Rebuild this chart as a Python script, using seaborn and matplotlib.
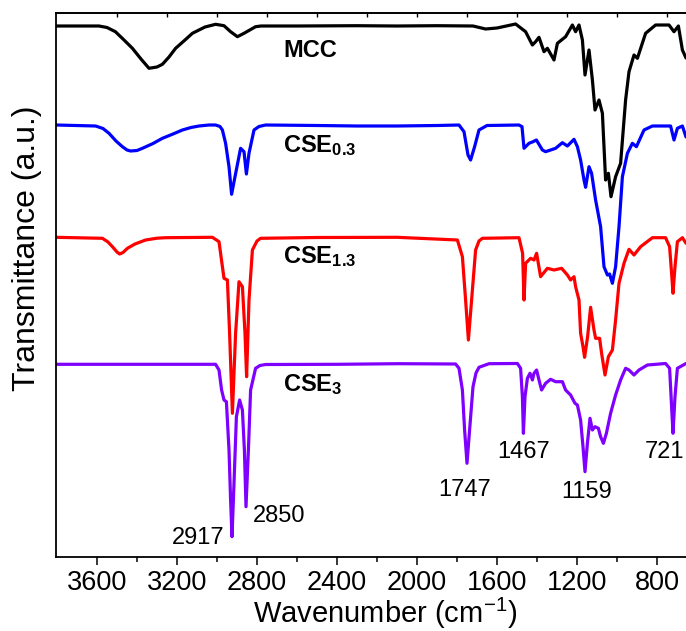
import numpy as np
import pandas as pd
import matplotlib
matplotlib.use("Agg")
import matplotlib.pyplot as plt
import seaborn as sns

# ---------------- data ----------------
mcc_wn = [3805, 3590, 3550, 3508, 3470, 3423, 3380, 3340, 3300, 3273, 3240, 3207, 3160, 3123, 3060,
          3007, 2965, 2932, 2898, 2865, 2807, 2780,
          2600, 2300, 2100, 1900, 1720, 1657, 1600, 1507, 1457, 1423, 1407, 1390, 1365, 1348,
          1315, 1298, 1257, 1223, 1207, 1190, 1173, 1160, 1140, 1123, 1110, 1090, 1073, 1057,
          1043, 1030, 1007, 982, 957, 940, 915, 898, 857, 807, 740, 715, 693, 673, 655]
mcc_t = [531, 531, 529.5, 525.3, 518, 508.7, 498, 488.7, 490, 492.7, 500, 508.7, 517, 523.7, 530,
         532.7, 531.3, 525.3, 520.3, 523.7, 530.3, 531,
         531, 531.3, 531, 531.3, 531, 528, 529, 533, 525.3, 512, 515.3, 519.7, 505.3, 508.7,
         497, 513.7, 520.3, 532, 525.3, 532, 517, 482, 507, 477, 447, 457, 443.7, 377,
         383.7, 360.3, 380.3, 393.7, 457, 485.3, 502, 498.7, 523.7, 532, 532, 525.3, 531, 507, 499]

cse03_wn = [3805, 3607, 3570, 3540, 3505, 3473, 3450, 3432, 3400, 3373, 3320, 3273, 3220, 3173, 3130,
            3090, 3040, 3007, 2985, 2973, 2957, 2940, 2927,
            2910, 2882, 2865, 2853, 2840, 2815, 2790, 2757, 2500, 2300, 2100, 1900, 1790, 1765, 1745,
            1732, 1712, 1690, 1650, 1490, 1475, 1465, 1440, 1420, 1403, 1373, 1357, 1307, 1273,
            1248, 1215, 1198, 1182, 1165, 1157, 1140, 1127, 1107, 1082, 1065, 1048, 1037, 1023,
            1007, 990, 973, 948, 923, 903, 865, 823, 732, 715, 698, 673, 655]
cse03_t = [432, 431, 428.5, 423.7, 416, 410.3, 407, 406, 406.5, 408.7, 413.5, 418.7, 423, 427, 429.5,
           431, 432, 432, 430.5, 427, 413.7, 390.3, 362.7,
           380.3, 408.7, 405.3, 383, 403.7, 427, 430.5, 432, 431.5, 431, 431, 431.5, 432, 425.3, 402,
           397, 410.3, 427, 431.5, 432, 430.3, 408.7, 413.7, 415.3, 417, 407, 405.3, 408.7, 414.3,
           411, 417.7, 410.3, 397, 377, 369.7, 390.3, 383.7, 357, 330.3, 290.3, 282, 283, 273.7,
           290.3, 330.3, 380.3, 403.7, 413.7, 410.3, 427, 431, 431, 417, 428.7, 431, 420]

cse13_wn = [3805, 3573, 3545, 3523, 3500, 3487, 3470, 3448, 3410, 3357, 3300, 3257, 3023, 2990, 2973,
            2965, 2948, 2937, 2923,
            2907, 2890, 2873, 2860, 2852, 2840, 2823, 2800, 2782, 2500, 2100, 1798, 1773, 1757, 1743,
            1727, 1707, 1690, 1673, 1490, 1472, 1465, 1457, 1432, 1415, 1402, 1382, 1348, 1315, 1277,
            1248, 1232, 1215, 1207, 1190, 1182, 1170, 1162, 1147, 1132, 1115, 1107, 1087, 1077,
            1060, 1043, 1023, 1007, 990, 965, 940, 915, 882, 823, 757, 737, 727, 720, 710, 698,
            673, 655]
cse13_t = [319.7, 318.7, 315, 310.3, 305, 303, 304.5, 308.7, 313, 317, 318.8, 319.3, 319.7, 315.3, 290.3,
           278.7, 277, 223.7, 143.7,
           223.7, 275.3, 270.3, 223.7, 180.3, 257, 307, 316, 318.7, 319.5, 319.7, 317, 300.3, 257, 217,
           257, 307, 316, 318.7, 319.3, 303.7, 257, 293.7, 298.7, 297, 303.7, 280.3, 288.7, 287, 288.7,
           282, 277, 280.3, 270.3, 257, 223.7, 210.3, 199.7, 220.3, 249.7, 227, 218.7, 218.7, 203.7,
           182, 200.3, 207, 237, 273.7, 293.7, 307.7, 302, 310.3, 319.3, 319.3, 310.3, 283.7, 263.7,
           290.3, 315.3, 319.3, 313.7]

cse3_wn = [3805, 3007, 2990, 2977, 2965, 2953, 2940, 2932, 2925, 2915, 2903, 2887, 2873, 2863,
           2855, 2843, 2832, 2807, 2785, 2757, 2400, 2090, 1807, 1790, 1773, 1762, 1750, 1737, 1720,
           1705, 1690, 1640, 1498, 1482, 1473, 1468, 1460, 1448, 1435, 1423, 1415, 1402, 1390, 1377,
           1357, 1332, 1307, 1273, 1257, 1232, 1210, 1198, 1182, 1170, 1160, 1148, 1135, 1123,
           1110, 1093, 1082, 1068, 1053, 1032, 1007, 982, 957, 940, 915, 890, 848, 757, 737,
           727, 720, 710, 698, 655]
cse3_t = [192.7, 192.7, 187, 167, 157, 155.3, 107, 57, 20.3, 73.7, 140.3, 157, 147, 107,
          50.3, 107, 167, 188.7, 191.5, 192.5, 192.7, 193.3, 193, 188.7, 167, 127, 93.7, 127, 170.3,
          184, 189.7, 193.3, 193.5, 188.7, 160.3, 123.7, 160.3, 178.7, 183.7, 177, 183.7, 187, 177, 167,
          173.7, 177.7, 175.3, 175.3, 167, 162, 153.7, 152, 137, 110.3, 85.3, 113.7, 138.7, 127,
          130.3, 128.7, 120.3, 113.7, 123.7, 143.7, 162, 177, 188.7, 187, 182, 187, 192, 193.5, 188.7,
          150.3, 123.7, 160.3, 188.7, 193.5]

series_names = ["MCC", "CSE0.3", "CSE1.3", "CSE3"]
series_labels = [r"MCC", r"CSE$_{\mathbf{0.3}}$", r"CSE$_{\mathbf{1.3}}$", r"CSE$_{\mathbf{3}}$"]
series_colors = ["#000000", "#0000FF", "#FF0000", "#7F00FF"]
peak_labels = ["2917", "2850", "1747", "1467", "1159", "721"]
major_ticks = [3600, 3200, 2800, 2400, 2000, 1600, 1200, 800]
top_ticks = [3500, 3250, 3000, 2750, 2500, 2250, 2000, 1750, 1500, 1250, 1000, 750]

# ---------------- style ----------------
sns.set_style("ticks")
plt.rcParams["font.family"] = ["Liberation Sans", "DejaVu Sans"]
plt.rcParams["mathtext.fontset"] = "custom"
plt.rcParams["mathtext.rm"] = "Liberation Sans"
plt.rcParams["mathtext.bf"] = "Liberation Sans:bold"
plt.rcParams["mathtext.it"] = "Liberation Sans:italic"
plt.rcParams["text.color"] = "black"
plt.rcParams["axes.labelcolor"] = "black"
plt.rcParams["xtick.color"] = "black"
plt.rcParams["ytick.color"] = "black"

fig = plt.figure(figsize=(6.86, 6.31), dpi=100)
ax = fig.add_axes([56 / 686, 1 - 557 / 631, 1 - 56 / 686, (557 - 13.3) / 631])

wns = [mcc_wn, cse03_wn, cse13_wn, cse3_wn]
ts = [mcc_t, cse03_t, cse13_t, cse3_t]
for name, wn, t, c in zip(series_names, wns, ts, series_colors):
    df = pd.DataFrame({"wn": wn, "t": t})
    sns.lineplot(data=df, x="wn", y="t", color=c, lw=2.3, ax=ax,
                 estimator=None, sort=False, legend=False)

ax.set_xlim(3805, 655)
ax.set_ylim(0, 543.7)

# series labels
label_y = [500.3, 405.3, 293.7, 166.3]
for lab, y in zip(series_labels, label_y):
    ax.text(2670, y, lab, fontsize=17, fontweight="bold", ha="left", va="baseline", color="black")

# peak labels
peak_pos = [(3095, 19.5), (2687, 41.5), (1760, 67), (1465, 104.5), (1150, 65), (765, 104.5)]
for lab, (x, y) in zip(peak_labels, peak_pos):
    ax.text(x, y, lab, fontsize=17, ha="center", va="center", color="black")

# axes
ax.set_xticks(major_ticks)
ax.set_xticks(np.arange(3400, 600, -400), minor=True)
ax.set_yticks([])
ax.tick_params(axis="x", which="major", direction="out", length=6, width=1.1, pad=3,
               labelsize=19.5, colors="black")
ax.tick_params(axis="x", which="minor", direction="out", length=3.5, width=1.1)
for s in ["left", "bottom", "top"]:
    ax.spines[s].set_linewidth(1.3)
    ax.spines[s].set_color("black")
ax.spines["right"].set_visible(False)

sec = ax.secondary_xaxis("top")
sec.set_xticks(top_ticks)
sec.tick_params(direction="in", length=3, width=1.0, labeltop=False)
sec.spines["top"].set_linewidth(1.3)

ax.set_xlabel(r"Wavenumber (cm$^{\mathregular{-1}}$)", fontsize=21, va="center", color="black")
ax.xaxis.set_label_coords(0.522, -0.104)
ax.set_ylabel("Transmittance (a.u.)", fontsize=23, va="center", color="black")
ax.yaxis.set_label_coords(-0.046, 0.567)

fig.savefig("out.png", dpi=100)
